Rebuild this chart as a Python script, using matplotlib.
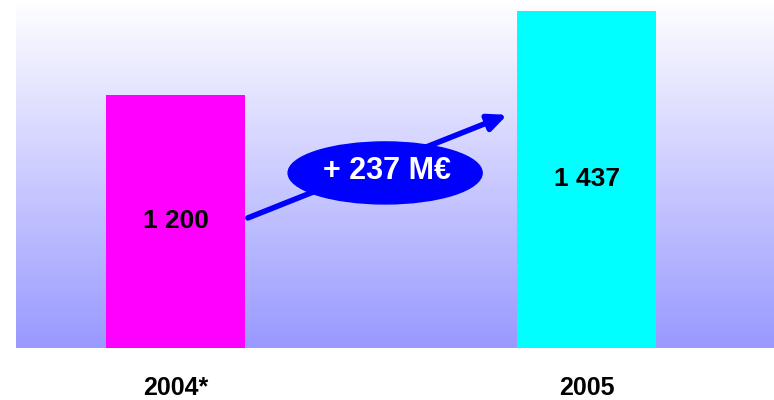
import numpy as np
import matplotlib.pyplot as plt
from matplotlib.colors import LinearSegmentedColormap
from matplotlib.patches import Ellipse

years = ["2004*", "2005"]
values = [1200, 1437]
bar_colors = ["#FF00FF", "#00FFFF"]
value_labels = ["1 200", "1 437"]
delta_label = "+ 237 M€"

plt.rcParams['font.family'] = ['Liberation Sans', 'DejaVu Sans']

ymin, ymax = 486, 1468
xmin, xmax = -0.388, 1.456

fig = plt.figure(figsize=(7.74, 4.0), dpi=100)
ax = fig.add_axes([16 / 774, 52 / 400, 758 / 774, 348 / 400])

# background gradient, white at top to lavender at bottom
grad = LinearSegmentedColormap.from_list("bg", ["#FFFFFF", "#9999FF"])
ax.imshow(np.linspace(1, 0, 256).reshape(-1, 1), cmap=grad, aspect="auto",
          extent=[xmin, xmax, ymin, ymax], origin="lower", zorder=0)

x = np.arange(len(years))
ax.bar(x, values, width=0.336, color=bar_colors, zorder=2)

for xi, v, lab in zip(x, values, value_labels):
    ax.text(xi, (ymin + v) / 2, lab, ha="center", va="center",
            fontsize=19, fontweight="bold", color="black", zorder=3)

# growth arrow between the bars
ax.annotate("", xy=(0.807, 1144), xytext=(0.176, 853),
            arrowprops=dict(arrowstyle="-|>,head_length=1.1,head_width=0.5",
                            color="#0000FF", lw=4, shrinkA=0, shrinkB=0),
            zorder=3)
ax.add_patch(Ellipse((0.51, 980), 0.472, 175, color="#0000FF", zorder=4))
ax.text(0.515, 985, delta_label, ha="center", va="center", fontsize=22,
        fontweight="bold", color="white", zorder=5)

ax.set_xlim(xmin, xmax)
ax.set_ylim(ymin, ymax)
ax.set_xticks(x)
ax.set_xticklabels(years, fontsize=18, fontweight="bold")
ax.tick_params(axis="x", length=0, pad=20.5)
ax.set_yticks([])
for s in ax.spines.values():
    s.set_visible(False)

fig.savefig("out.png", dpi=100)
